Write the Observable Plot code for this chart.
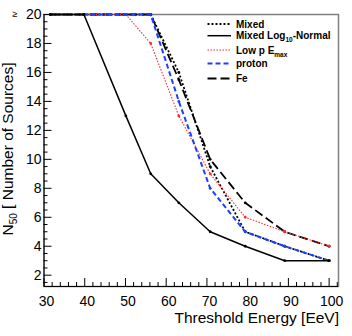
<!DOCTYPE html>
<html>
<head>
<meta charset="utf-8">
<script src="https://cdn.jsdelivr.net/npm/d3@7"></script>
<script src="https://cdn.jsdelivr.net/npm/@observablehq/plot@0.6"></script>
<style>
  html, body { margin: 0; padding: 0; background: #fff; }
  #chart svg { display: block; }
</style>
</head>
<body>
<div id="chart"></div>
<script>
// ---- data ----
const thresholds = [31.6, 39.8, 50.1, 56.2, 63.1, 70.8, 79.4, 89.1, 100];
const mixed          = [20, 20, 20, 20, 16, 9.5, 5, 4, 3];
const mixedLogNormal = [20, 20, 13, 9, 7, 5, 4, 3, 3];
const lowPEmax       = [20, 20, 20, 18, 13, 9, 6, 5, 4];
const proton         = [20, 20, 20, 20, 14, 8, 5, 4, 3];
const fe             = [20, 20, 20, 20, 15.5, 10, 7, 5, 4];

const xTickValues = [30, 40, 50, 60, 70, 80, 90, 100];
const yTickValues = [2, 4, 6, 8, 10, 12, 14, 16, 18, 20];
const xLabel = "Threshold Energy [EeV]";
const yLabelMain = "N", yLabelSub = "50", yLabelRest = " [ Number of Sources]";

// ---- layout ----
const W = 352, H = 336;
const mL = 43.5, mR = 14, mT = 14, mB = 50;
const frameW = W - mL - mR, frameH = H - mT - mB;
const xDomain = [30, 102.3];
const yDomain = [1.22, 20];

const xMinor = d3.range(32, 102.3, 2).filter(v => v % 10 !== 0);
const yMinor = d3.range(1.5, 20, 0.5).filter(v => v % 2 !== 0);

const series = [
  {name: "Mixed", values: mixed, stroke: "#000", dash: "2,2", width: 1.8},
  {name: "Fe", values: fe, stroke: "#000", dash: "9,4", width: 1.8},
  {name: "Low p", values: lowPEmax, stroke: "#ff2a2a", dash: "1.5,1.5", width: 1.1},
  {name: "proton", values: proton, stroke: "#1f3fff", dash: "5,3", width: 2},
  {name: "Mixed Log10-Normal", values: mixedLogNormal, stroke: "#000", dash: null, width: 1.5}
];

const lineMarks = [];
for (const s of series) {
  const rows = thresholds.map((t, i) => ({x: t, y: s.values[i]}));
  lineMarks.push(Plot.line(rows, {x: "x", y: "y", stroke: s.stroke, strokeWidth: s.width,
    strokeDasharray: s.dash || undefined, strokeLinecap: "butt"}));
  lineMarks.push(Plot.dot(rows, {x: "x", y: "y", r: 1.4, fill: s.stroke, stroke: "none"}));
}

const font = "Liberation Sans, Arial, Helvetica, sans-serif";

const svg = Plot.plot({
  width: W, height: H,
  marginLeft: mL, marginRight: mR, marginTop: mT, marginBottom: mB,
  style: {fontFamily: font, background: "#fff", color: "#000"},
  x: {domain: xDomain, axis: null},
  y: {domain: yDomain, axis: null},
  marks: [
    Plot.frame({stroke: "#808080", strokeWidth: 1.5}),
    Plot.ruleX([xDomain[0]], {stroke: "#000", strokeWidth: 1}),
    Plot.ruleY([yDomain[0]], {stroke: "#000", strokeWidth: 1}),
    Plot.tickY(yTickValues, {y: d => d, insetRight: frameW - 8, stroke: "#000"}),
    Plot.tickY(yMinor, {y: d => d, insetRight: frameW - 4, stroke: "#000"}),
    Plot.tickX(xTickValues, {x: d => d, insetTop: frameH - 8, stroke: "#000"}),
    Plot.tickX(xMinor, {x: d => d, insetTop: frameH - 4, stroke: "#000"}),
    Plot.axisX(xTickValues, {tickSize: 0, tickPadding: 10, fontSize: 14, label: null, dx: 2.5}),
    Plot.axisY(yTickValues, {tickSize: 0, tickPadding: 2.5, fontSize: 14, label: null}),
    Plot.text([xLabel], {frameAnchor: "bottom-right", textAnchor: "end", dy: 36, dx: 0.5, fontSize: 15.5}),
    ...lineMarks
  ]
});

document.getElementById("chart").appendChild(svg);

const root = d3.select(svg);

// ---- "≥" marker left of the top tick label ----
root.append("text")
  .attr("x", 15).attr("y", mT + 3)
  .attr("text-anchor", "middle")
  .attr("font-family", font).attr("font-size", 9).attr("fill", "#000")
  .text("\u2265");

// ---- y label with subscript ----
const yl = root.append("text")
  .attr("transform", `translate(${13},${mT + frameH / 2 - 1}) rotate(-90)`)
  .attr("text-anchor", "middle")
  .attr("font-family", font)
  .attr("font-size", 15.5)
  .attr("fill", "#000");
yl.append("tspan").text(yLabelMain);
yl.append("tspan").attr("font-size", 10).attr("dy", 4).text(yLabelSub);
yl.append("tspan").attr("dy", -4).text(yLabelRest);

// ---- legend (inside the frame, top right) ----
const legendRows = [
  {parts: [["Mixed"]], s: series[0], y: 24},
  {parts: [["Mixed Log"], ["10", "sub"], ["-Normal"]], s: series[4], y: 35.7},
  {parts: [["Low p E"], ["max", "sub"]], s: series[2], y: 50},
  {parts: [["proton"]], s: series[3], y: 63.5},
  {parts: [["Fe"]], s: series[1], y: 78.5}
];
const lg = root.append("g").attr("font-family", font).attr("font-weight", "bold")
  .attr("font-size", 10).attr("text-anchor", "start");
for (const r of legendRows) {
  lg.append("line").attr("x1", 207.5).attr("x2", 231).attr("y1", r.y).attr("y2", r.y)
    .attr("stroke", r.s.stroke).attr("stroke-width", r.s.width)
    .attr("stroke-dasharray", r.s.dash || null);
  const t = lg.append("text").attr("x", 236).attr("y", r.y + 3.6)
    .attr("text-anchor", "start").attr("fill", "#000");
  let shifted = false;
  for (const [txt, kind] of r.parts) {
    const ts = t.append("tspan").text(txt);
    if (kind === "sub") { ts.attr("font-size", 6.5).attr("dy", 3); shifted = true; }
    else if (shifted) { ts.attr("dy", -3); shifted = false; }
  }
}
</script>
</body>
</html>
